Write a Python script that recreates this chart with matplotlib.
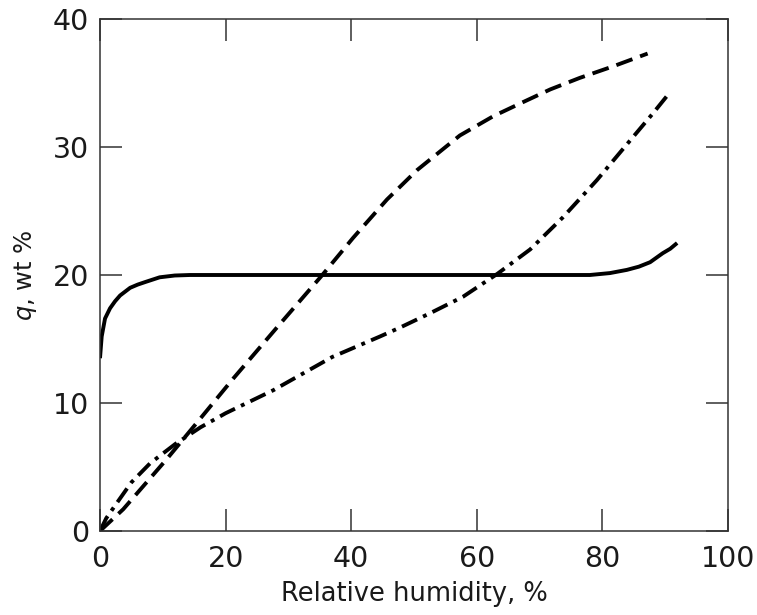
import matplotlib
matplotlib.use("Agg")
import matplotlib.pyplot as plt

# values (relative humidity %, q wt %)
solid_rh = [0, 0.27, 0.8, 1.6, 2.4, 3.2, 4.8, 6, 7.2, 9.5, 11.9, 14.3, 30, 50, 70, 78, 81.2, 83.9, 85.8, 87.6, 89.6, 90.8, 91.9]
solid_q = [13.5, 15.2, 16.6, 17.4, 17.95, 18.4, 19.0, 19.25, 19.45, 19.82, 19.96, 20.0, 20.0, 20.0, 20.0, 20.0, 20.15, 20.4, 20.65, 21.0, 21.7, 22.05, 22.5]

dash_rh = [0, 3.7, 10.6, 16, 21.2, 28, 35.4, 40.3, 45.7, 50.5, 57.3, 62.6, 66.9, 71.7, 76.4, 81.7, 87.2]
dash_q = [0, 1.7, 5.6, 8.8, 11.9, 15.8, 20.0, 22.9, 25.9, 28.2, 30.9, 32.4, 33.4, 34.5, 35.4, 36.3, 37.3]

dd_rh = [0, 1, 2.7, 5, 8, 12, 16, 20, 27.6, 37, 44.6, 47.8, 52.5, 57.8, 63.3, 68.5, 73.7, 79.1, 84.4, 88, 90.8]
dd_q = [0, 1.0, 2.2, 3.8, 5.3, 6.8, 8.1, 9.2, 11.0, 13.6, 15.2, 15.9, 17.0, 18.3, 20.1, 22.0, 24.5, 27.4, 30.5, 32.6, 34.3]

xticks = [0, 20, 40, 60, 80, 100]
yticks = [0, 10, 20, 30, 40]

fig = plt.figure(figsize=(7.57, 6.15), dpi=100)
ax = fig.add_axes([100 / 757, 1 - 531 / 615, 628 / 757, 512 / 615])

lw = 2.8
ax.plot(solid_rh, solid_q, color="black", lw=lw, solid_capstyle="butt")
l2, = ax.plot(dash_rh, dash_q, color="black", lw=lw)
l2.set_dashes((4.4, 2.1))
l3, = ax.plot(dd_rh, dd_q, color="black", lw=lw)
l3.set_dashes((4.3, 1.7, 1.0, 1.7))

ax.set_xlim(0, 100)
ax.set_ylim(0, 40)
ax.set_xticks(xticks)
ax.set_yticks(yticks)

for s in ax.spines.values():
    s.set_color("#333333")
    s.set_linewidth(1.1)

ax.tick_params(direction="in", length=16, width=1.1, color="#333333",
               top=True, right=True, labelsize=20.5, labelcolor="#1a1a1a")
ax.tick_params(axis="x", pad=10)
ax.tick_params(axis="y", pad=8)

ax.set_xlabel("Relative humidity, %", fontsize=18.5, color="#1a1a1a", labelpad=6)
ax.set_ylabel(r"$q$, wt %", fontsize=17.5, color="#1a1a1a", labelpad=10)

fig.savefig("out.png", dpi=100)
